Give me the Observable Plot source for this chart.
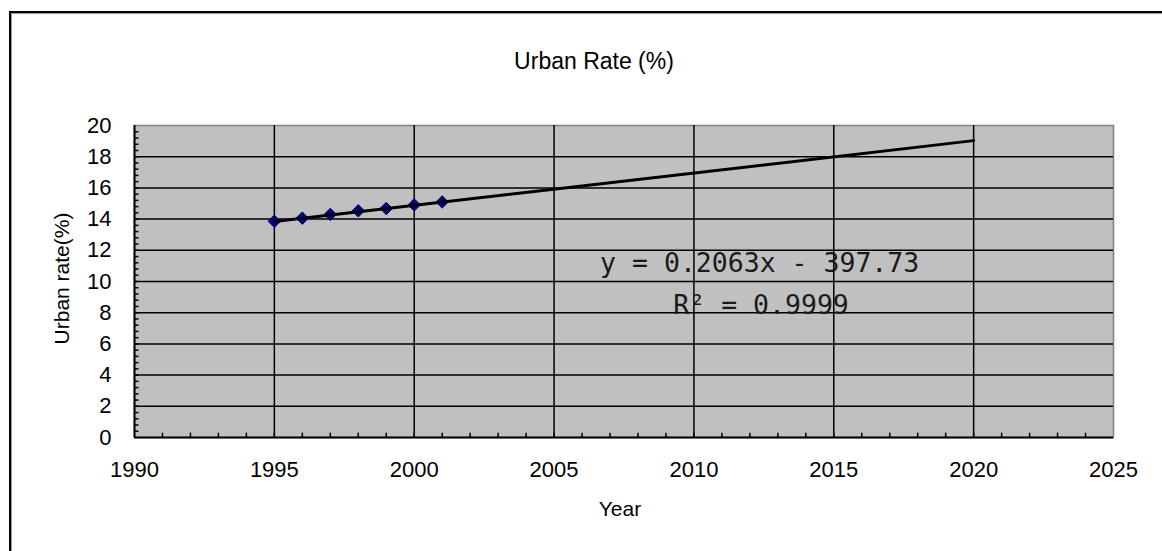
<!DOCTYPE html>
<html>
<head>
<meta charset="utf-8">
<script src="https://cdn.jsdelivr.net/npm/d3@7"></script>
<script src="https://cdn.jsdelivr.net/npm/@observablehq/plot@0.6"></script>
<style>
  html, body { margin: 0; padding: 0; background: #fff; }
  #wrap { position: relative; width: 1162px; height: 551px; overflow: hidden; }
  #border { position: absolute; left: 9px; top: 11px; width: 1400px; height: 800px;
            border-top: 2px solid #000; border-left: 2px solid #000; box-shadow: inset 1px 1px 0 #999; }
  #chart { position: absolute; left: 0; top: 0; }
</style>
</head>
<body>
<div id="wrap"><div id="border"></div><div id="chart"></div></div>
<script>
// ---- data ----
const years = [1995, 1996, 1997, 1998, 1999, 2000, 2001];
const urbanRate = [13.86, 14.06, 14.30, 14.53, 14.68, 14.91, 15.10];
const trendYears = [1995, 2020];
const trendValues = [13.84, 19.03];
const xTicks = [1990, 1995, 2000, 2005, 2010, 2015, 2020, 2025];
const yTicks = [0, 2, 4, 6, 8, 10, 12, 14, 16, 18, 20];
const xGrid = [1995, 2000, 2005, 2010, 2015, 2020];
const yGrid = [2, 4, 6, 8, 10, 12, 14, 16, 18];
const xMinor = d3.range(1991, 2025);
const yMinor = d3.range(0.4, 20, 0.4);
const titleText = "Urban Rate (%)";
const xLabel = "Year";
const yLabel = "Urban rate(%)";
const eqLines = ["y = 0.2063x - 397.73", "R² = 0.9999"];
const eqX = [2012.35, 2012.4];
const eqY = [11.15, 8.46];

const points = years.map((x, i) => ({x, y: urbanRate[i]}));
const trend = trendYears.map((x, i) => ({x, y: trendValues[i]}));
const eq = eqLines.map((t, i) => ({t, x: eqX[i], y: eqY[i]}));

const font = "Liberation Sans, Arial, sans-serif";

const chart = Plot.plot({
  width: 1162,
  height: 551,
  marginLeft: 134,
  marginRight: 49,
  marginTop: 125,
  marginBottom: 114,
  style: {background: "transparent", fontFamily: font, fontSize: "22px", color: "#000"},
  x: {domain: [1990, 2025]},
  y: {domain: [0, 20]},
  marks: [
    Plot.frame({fill: "#c0c0c0", stroke: "#808080", strokeWidth: 1.5}),
    Plot.ruleX(xGrid, {stroke: "#000", strokeWidth: 1.5}),
    Plot.ruleY(yGrid, {stroke: "#000", strokeWidth: 1.5}),
    Plot.ruleX(xMinor, {y1: 0, y2: 0.28, stroke: "#000", strokeWidth: 1.5}),
    Plot.ruleY(yMinor, {x1: 1990, x2: 1990.16, stroke: "#000", strokeWidth: 1.5}),
    Plot.ruleY([0], {stroke: "#000", strokeWidth: 2}),
    Plot.ruleX([1990], {stroke: "#000", strokeWidth: 2}),
    Plot.axisX({ticks: xTicks, tickSize: 0, tickPadding: 24, tickFormat: d => String(d), label: null, fontSize: 22, letterSpacing: "0.5px"}),
    Plot.axisY({ticks: yTicks, tickSize: 0, tickPadding: 23, label: null, fontSize: 22, letterSpacing: "0.5px"}),
    Plot.dot(points, {x: "x", y: "y", symbol: "diamond2", r: 5.6, fill: "#000080", stroke: "#000080", strokeWidth: 1}),
    Plot.line(trend, {x: "x", y: "y", stroke: "#000", strokeWidth: 3}),
    Plot.text(eq, {x: "x", y: "y", text: "t", fontFamily: "DejaVu Sans Mono, monospace", fontSize: 26.5, fill: "#1a1a1a"}),
    Plot.text([titleText], {frameAnchor: "top", dx: -30, dy: -73, fontSize: 23, letterSpacing: "1.5px"}),
    Plot.text([xLabel], {frameAnchor: "bottom", dx: -4, dy: 78, fontSize: 21, letterSpacing: "0.5px"}),
    Plot.text([yLabel], {frameAnchor: "left", textAnchor: "middle", dx: -72, dy: -3, rotate: -90, fontSize: 21})
  ]
});
document.getElementById("chart").appendChild(chart);
</script>
</body>
</html>
